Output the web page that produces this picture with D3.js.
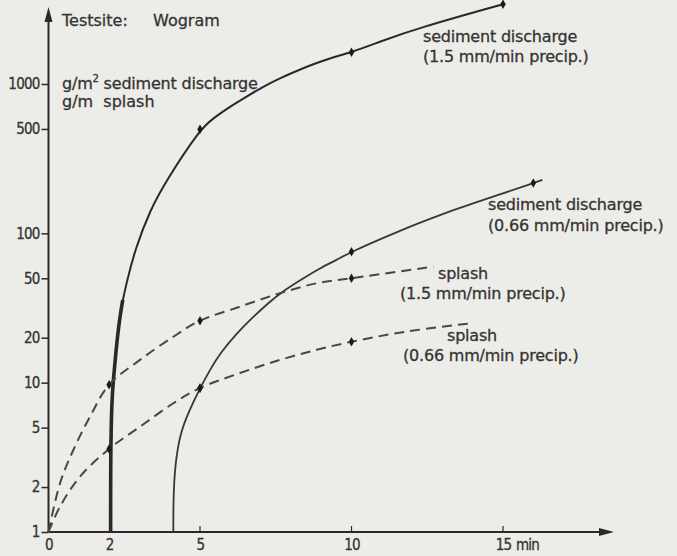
<!DOCTYPE html>
<html><head><meta charset="utf-8">
<script src="https://cdn.jsdelivr.net/npm/d3@7"></script>
<style>
html,body{margin:0;padding:0;background:#ecece8;}
svg{display:block;}
text{font-family:"DejaVu Sans",sans-serif;fill:#363333;stroke:#363333;stroke-width:0.3px;}
</style></head><body>
<svg id="c" width="677" height="556"></svg>
<script>
// ---- data (time in min, value in g/m² or g/m) ----
const xTickValues = [0, 2, 5, 10, 15];
const xTickMarks  = [5, 10, 15];
const xUnit = "min";
const yTickValues = [1, 2, 5, 10, 20, 50, 100, 500, 1000];

// traced curves
const sed15Curve = [[2.05,1],[2.05,3.5],[2.09,7.6],[2.14,10.4],[2.23,16.6],[2.34,26.3],[2.45,35.8],[2.6,48.7],[2.85,77],[3.35,143],[3.9,228],[5,498],[5.44,590],[5.99,706],[6.54,824],[7.09,961],[7.64,1094],[8.19,1224],[8.74,1358],[9.29,1489],[10,1630],[10.94,1923],[12.15,2355],[15,3420]];
const sed066Curve = [[4.12,1],[4.12,1.64],[4.17,2.74],[4.34,4.58],[4.65,6.56],[5,9.17],[5.33,12.2],[5.66,15.7],[6.21,21.4],[6.76,27.7],[7.31,34.9],[7.64,39.7],[8.41,50],[8.96,58.4],[9.51,66.4],[10,75.4],[11.38,100],[13.03,136],[14.68,176],[16,217],[16.3,228]];
const spl15Curve = [[0,1],[0.38,2.12],[0.82,3.54],[1.37,5.92],[2,9.7],[3.02,14.2],[4.12,20.3],[5,26],[6.32,32.3],[7.64,39.7],[8.85,46.3],[10,50],[12.7,59.8]];
const spl066Curve = [[0,1],[0.38,1.48],[1.04,2.35],[2,3.6],[3.02,5.07],[4.12,7.28],[5,9.2],[6.32,11.6],[7.64,14.2],[8.85,16.6],[10,18.8],[11.82,22],[13.97,25]];

// measured points
const sed15Points  = [[5,498],[10,1630],[15,3420]];
const sed066Points = [[5,9.17],[10,75.4],[16,217]];
const spl15Points  = [[2,9.7],[5,26],[10,50]];
const spl066Points = [[2,3.6],[5,9.2],[10,18.8]];

const sed15Label  = ["sediment discharge", "(1.5 mm/min precip.)"];
const sed066Label = ["sediment discharge", "(0.66 mm/min precip.)"];
const spl15Label  = ["splash", "(1.5 mm/min precip.)"];
const spl066Label = ["splash", "(0.66 mm/min precip.)"];
const titleText = ["Testsite:", "Wogram"];
const unitText = ["sediment discharge", "g/m  splash"];

// ---- drawing ----
const svg = d3.select("#c");
const ink = "#2c2829";
const tickFont = '"DejaVu Sans Condensed","DejaVu Sans",sans-serif';
const x = d3.scaleLinear().domain([0, 15]).range([48.5, 503]);
const y = d3.scaleLog().domain([1, 1000]).range([532, 84]);

const smooth = d3.line().x(d => x(d[0])).y(d => y(d[1])).curve(d3.curveBasis);
const through = d3.line().x(d => x(d[0])).y(d => y(d[1])).curve(d3.curveCatmullRom.alpha(0.5));

// axes
svg.append("line").attr("x1", x(0)).attr("x2", x(0)).attr("y1", y(1)).attr("y2", 18)
  .attr("stroke", ink).attr("stroke-width", 2);
svg.append("path").attr("d", `M${x(0)},7 L${x(0)-4},22 L${x(0)+4},22 Z`).attr("fill", ink);
svg.append("line").attr("x1", x(0)).attr("x2", 602).attr("y1", y(1)).attr("y2", y(1))
  .attr("stroke", ink).attr("stroke-width", 2);
svg.append("path").attr("d", `M614,${y(1)} L599,${y(1)-4} L599,${y(1)+4} Z`).attr("fill", ink);

const yAxis = svg.append("g").attr("transform", `translate(${x(0)},0)`)
  .call(d3.axisLeft(y).tickValues(yTickValues).tickSize(7).tickPadding(2).tickFormat(d3.format("d")));
yAxis.select(".domain").remove();
yAxis.selectAll("line").attr("stroke", ink).attr("stroke-width", 1.5);
yAxis.selectAll("text").attr("font-size", 15).attr("letter-spacing", -0.8)
  .style("font-family", tickFont).attr("fill", "#363333");

const xAxis = svg.append("g").attr("transform", `translate(0,${y(1)})`)
  .call(d3.axisBottom(x).tickValues(xTickValues).tickSize(0).tickPadding(7).tickFormat(d3.format("d")));
xAxis.select(".domain").remove();
xAxis.selectAll("text").attr("font-size", 15).attr("letter-spacing", -0.8)
  .style("font-family", tickFont).attr("fill", "#363333");
svg.append("g").selectAll("line").data(xTickMarks).join("line")
  .attr("x1", d => x(d)).attr("x2", d => x(d)).attr("y1", y(1)).attr("y2", y(1) - 6)
  .attr("stroke", ink).attr("stroke-width", 1.2);
svg.append("text").attr("x", x(15) + 13).attr("y", y(1) + 18).attr("font-size", 15)
  .style("font-family", tickFont).attr("letter-spacing", -0.8).text(xUnit);

// curves
svg.append("path").attr("d", smooth(sed15Curve)).attr("fill", "none").attr("stroke", ink).attr("stroke-width", 2);
svg.append("path").attr("d", smooth(sed15Curve.filter(d => d[1] <= 36))).attr("fill", "none").attr("stroke", ink).attr("stroke-width", 3.6);
svg.append("path").attr("d", smooth(sed066Curve)).attr("fill", "none").attr("stroke", "#3a3637").attr("stroke-width", 1.8);
[spl15Curve, spl066Curve].forEach(c => {
  svg.append("path").attr("d", through(c)).attr("fill", "none").attr("stroke", "#4a4647")
    .attr("stroke-width", 2).attr("stroke-dasharray", "10,6");
});

// markers
const sym = d3.symbol().type(d3.symbolDiamond).size(26);
[sed15Points, sed066Points, spl15Points, spl066Points].forEach(pts => {
  svg.append("g").selectAll("path").data(pts).join("path")
    .attr("d", sym).attr("transform", d => `translate(${x(d[0])},${y(d[1])})`).attr("fill", "#1e1a1b");
});

// annotations
function label(lines, px, py, gap, dx2) {
  const t = svg.append("g");
  lines.forEach((s, i) => t.append("text").attr("x", px + (i ? (dx2 || 0) : 0)).attr("y", py + i * gap)
    .attr("font-size", 16).attr("letter-spacing", -0.2).text(s));
}
svg.append("text").attr("x", 62).attr("y", 26).attr("font-size", 16).text(titleText[0]);
svg.append("text").attr("x", 153).attr("y", 26).attr("font-size", 16).text(titleText[1]);
const u = svg.append("text").attr("x", 62).attr("y", 89).attr("font-size", 16).attr("letter-spacing", -0.2);
u.append("tspan").text("g/m");
u.append("tspan").attr("font-size", 10).attr("dy", -7).text("2");
u.append("tspan").attr("dy", 7).text(" " + unitText[0]);
svg.append("text").attr("x", 62).attr("y", 107).attr("font-size", 16).attr("xml:space", "preserve").style("white-space", "pre").text(unitText[1]);

label(sed15Label, 423, 42, 20, 0);
label(sed066Label, 488, 210, 21, 0);
label(spl15Label, 438, 279, 20, -38);
label(spl066Label, 447, 341, 20, -44);
</script></body></html>
